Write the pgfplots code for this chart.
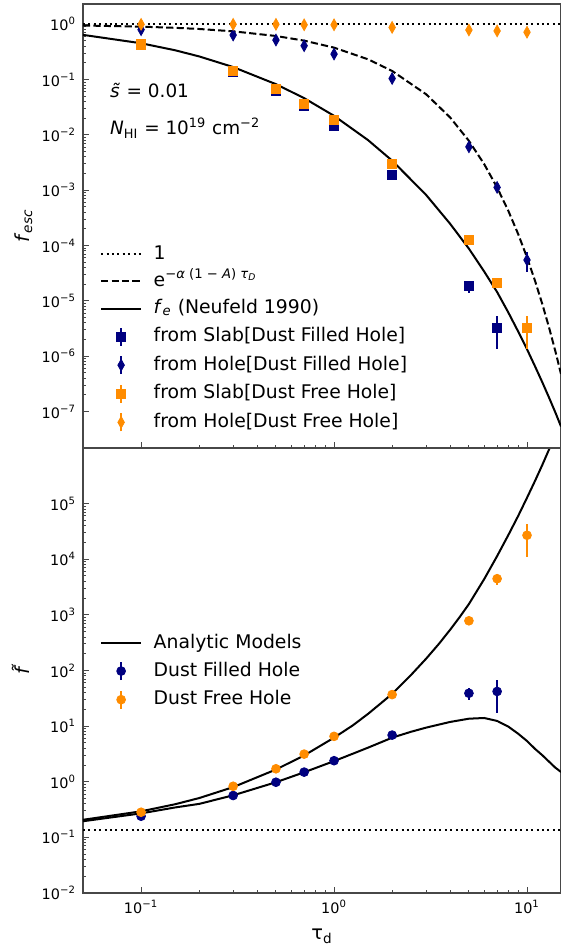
\documentclass[border=0pt]{standalone}
\usepackage{fontspec}
\setmainfont{DejaVu Sans}
\usepackage{pgfplots}
\pgfplotsset{compat=1.18}
\definecolor{navyc}{HTML}{000080}
\definecolor{orangec}{HTML}{FF8C00}

\pgfplotsset{
  every axis/.append style={
    axis line style={line width=0.7pt, color=black!72},
    tick style={color=black!72, line width=0.5pt},
    major tick length=2.8pt, minor tick length=1.6pt,
    tick align=inside, xtick pos=left, ytick pos=left,
    tick label style={font=\fontsize{7.2}{8}\selectfont},
    label style={font=\fontsize{9.7}{11}\selectfont},
    legend cell align=left,
  },
  every axis legend/.append style={draw=none, fill=none, inner sep=0pt, row sep=4.4pt,
    font=\fontsize{9.4}{11}\selectfont,
    nodes={inner sep=0pt, text height=7pt, text depth=2pt},
    /tikz/every odd column/.append style={column sep=5.8pt}},
  lineleg/.style={legend image code/.code={%
    \path[draw=none, fill=none] (0pt,-4.6pt) rectangle (20pt,4.6pt);
    \draw[##1] (0pt,0pt) -- (20pt,0pt);}},
  errleg/.style={legend image code/.code={%
    \path[draw=none, fill=none] (0pt,-4.6pt) rectangle (20pt,4.6pt);
    \draw[##1, mark=none, solid, line width=0.9pt] (10pt,-4.5pt) -- (10pt,4.5pt);
    \draw[##1] plot coordinates {(10pt,0pt)};}},
}

\begin{document}
\begin{tikzpicture}
\useasboundingbox (-41.5pt,-25.5pt) rectangle (239pt,446.5pt);

% lower panel: f tilde
\begin{axis}[at={(0pt,0pt)}, anchor=south west, width=239pt, height=222.5pt, scale only axis,
  xmode=log, ymode=log, xmin=0.05, xmax=15, ymin=1e-2, ymax=1e6,
  xtick={0.1,1,10},
  ytick={1e-2,1e-1,1,10,100,1000,1e4,1e5},
  yticklabels={10\textsuperscript{−2},10\textsuperscript{−1},10\textsuperscript{0},10\textsuperscript{1},10\textsuperscript{2},10\textsuperscript{3},10\textsuperscript{4},10\textsuperscript{5}},
  xticklabels={10\textsuperscript{−1},10\textsuperscript{0},10\textsuperscript{1}},
  xlabel={τ\textsubscript{d}},
  xlabel style={at={(axis description cs:0.5,-0.097)}, anchor=center},
  ylabel={\textit{f̃}},
  ylabel style={at={(axis description cs:-0.111,0.5)}, anchor=south, inner sep=0pt},
  legend style={at={(axis description cs:0.035,0.583)}, anchor=north west},
]
\addplot[lineleg, black, line width=1pt] coordinates {
 (0.05,0.207) (0.1,0.294) (0.15,0.394) (0.2,0.509) (0.3,0.80) (0.5,1.66)
 (0.7,2.97) (1,6.2) (1.25,10.3) (1.5,16.6) (1.75,25.8) (2,38) (2.5,82.4)
 (3,163) (3.5,303) (4,543) (4.5,935) (5,1567) (6,4400)
 (7,11400) (8,27200) (9,60100) (10,127600) (11,255800) (12,495500)
 (13,937600) (14,1.73e6) (15,3.12e6)};
\addlegendentry{Analytic Models}
\addplot[black, line width=1pt, forget plot] coordinates {
 (0.05,0.195) (0.1,0.27) (0.15,0.345) (0.2,0.40) (0.3,0.57) (0.5,0.98)
 (0.7,1.48) (1,2.35) (1.25,3.19) (1.5,4.1) (2,6.2) (2.5,7.9) (3,9.4) (4,11.9)
 (5,13.6) (6,14.0) (7,12.4) (8,9.8) (9,7.3) (10,5.4) (11,3.9) (12,3.0)
 (13,2.3) (14,1.8) (15,1.5)};
\addplot[black, line width=1pt, dash pattern=on 1pt off 1.7pt, forget plot]
 coordinates {(0.05,0.134) (15,0.134)};
\addplot[errleg, navyc, only marks, mark=*, mark size=2.2pt,
  error bars/.cd, y dir=both, y explicit, error mark=none,
  error bar style={line width=0.9pt}]
  table[x=x, y=y, y error=e] {
x y e
0.1 0.24 0
0.3 0.566 0
0.5 0.98 0
0.7 1.49 0
1 2.39 0
2 6.9 0
5 39 10
7 42 25
};
\addlegendentry{Dust Filled Hole}
\addplot[errleg, orangec, only marks, mark=*, mark size=2.2pt,
  error bars/.cd, y dir=both, y explicit, error mark=none,
  error bar style={line width=0.9pt}]
  table[x=x, y=y, y error=e] {
x y e
0.1 0.283 0
0.3 0.83 0
0.5 1.71 0
0.7 3.14 0
1 6.55 0
2 36.9 0
5 783 0
7 4470 1000
10 27000 16000
};
\addlegendentry{Dust Free Hole}
\end{axis}

% upper panel: f_esc
\begin{axis}[at={(0pt,222.5pt)}, anchor=south west, width=239pt, height=222pt, scale only axis,
  xmode=log, ymode=log, xmin=0.05, xmax=15, ymin=2.2e-8, ymax=2.33,
  xtick={0.1,1,10}, xticklabels={},
  ytick={1e-7,1e-6,1e-5,1e-4,1e-3,1e-2,1e-1,1},
  yticklabels={10\textsuperscript{−7},10\textsuperscript{−6},10\textsuperscript{−5},10\textsuperscript{−4},10\textsuperscript{−3},10\textsuperscript{−2},10\textsuperscript{−1},10\textsuperscript{0}},
  ylabel={\textit{f}\textsubscript{\textit{esc}}},
  ylabel style={at={(axis description cs:-0.105,0.5)}, anchor=south, inner sep=0pt},
  legend style={at={(axis description cs:0.035,0.458)}, anchor=north west},
]
\addplot[lineleg, black, line width=1pt, dash pattern=on 1pt off 1.7pt] coordinates {(0.05,1) (15,1)};
\addlegendentry{1}
\addplot[lineleg, black, line width=1pt, dash pattern=on 3.6pt off 1.6pt] coordinates {
 (0.05,0.9527) (0.1,0.9076) (0.15,0.8646) (0.2,0.8237) (0.3,0.7475)
 (0.5,0.6157) (0.7,0.5071) (1,0.3791) (1.5,0.2334) (2,0.1437) (3,0.0545)
 (4,0.02065) (5,0.00783) (6,0.002969) (7,0.001125) (8,4.26e-4)
 (9,1.617e-4) (10,6.13e-5) (11,2.32e-5) (12,8.8e-6) (13,3.34e-6)
 (14,1.265e-6) (15,4.8e-7)};
\addlegendentry{e\textsuperscript{−\textit{α} (1 − \textit{A}) \textit{τ}\textsubscript{\textit{D}}}}
\addplot[lineleg, black, line width=1pt] coordinates {
 (0.05,0.645) (0.1,0.455) (0.15,0.34) (0.2,0.263) (0.3,0.169) (0.5,0.0829)
 (0.7,0.0463) (1,0.0222) (1.5,0.00808) (2,0.00344) (3,8.25e-4) (4,2.47e-4)
 (5,8.8e-5) (6,3.4e-5) (7,1.45e-5) (8,6.2e-6) (9,2.8e-6) (10,1.34e-6)
 (11,6.6e-7) (12,3.4e-7) (13,1.8e-7) (14,9.8e-8) (15,5.4e-8)};
\addlegendentry{\textit{f}\textsubscript{\textit{e}} (Neufeld 1990)}
\addplot[errleg, navyc, only marks, mark=square*, mark size=2.3pt,
  error bars/.cd, y dir=both, y explicit, error mark=none,
  error bar style={line width=0.9pt}]
  table[x=x, y=y, y error=e] {
x y e
0.1 0.42 0
0.3 0.14 0
0.5 0.063 0
0.7 0.033 0
1 0.0147 0
2 0.00188 0
5 1.87e-5 0.47e-5
7 3.3e-6 1.95e-6
};
\addlegendentry{from Slab[Dust Filled Hole]}
\addplot[errleg, navyc, only marks, mark=diamond*, mark size=2.9pt, mark options={xscale=0.75},
  error bars/.cd, y dir=both, y explicit, error mark=none,
  error bar style={line width=0.9pt}]
  table[x=x, y=y, y error=e] {
x y e
0.1 0.80 0
0.3 0.64 0
0.5 0.52 0
0.7 0.41 0
1 0.29 0
2 0.105 0
5 0.0061 0
7 0.00113 0
10 5.5e-5 2.1e-5
};
\addlegendentry{from Hole[Dust Filled Hole]}
\addplot[errleg, orangec, only marks, mark=square*, mark size=2.3pt,
  error bars/.cd, y dir=both, y explicit, error mark=none,
  error bar style={line width=0.9pt}]
  table[x=x, y=y, y error=e] {
x y e
0.1 0.435 0
0.3 0.145 0
0.5 0.068 0
0.7 0.037 0
1 0.0186 0
2 0.0030 0
5 1.26e-4 0
7 2.13e-5 0.44e-5
10 3.3e-6 1.95e-6
};
\addlegendentry{from Slab[Dust Free Hole]}
\addplot[errleg, orangec, only marks, mark=diamond*, mark size=2.9pt, mark options={xscale=0.75},
  error bars/.cd, y dir=both, y explicit, error mark=none,
  error bar style={line width=0.9pt}]
  table[x=x, y=y, y error=e] {
x y e
0.1 1.0 0
0.3 1.0 0
0.5 1.0 0
0.7 0.98 0
1 0.98 0
2 0.88 0
5 0.79 0
7 0.76 0
10 0.72 0
};
\addlegendentry{from Hole[Dust Free Hole]}
\node[anchor=west, font=\fontsize{9.2}{11}\selectfont, inner sep=0pt] at (axis description cs:0.056,0.806) {\textit{s̃} = 0.01};
\node[anchor=west, font=\fontsize{9.2}{11}\selectfont, inner sep=0pt] at (axis description cs:0.056,0.721) {\textit{N}\textsubscript{HI} = 10\textsuperscript{19} cm\textsuperscript{−2}};
\end{axis}
\end{tikzpicture}
\end{document}
